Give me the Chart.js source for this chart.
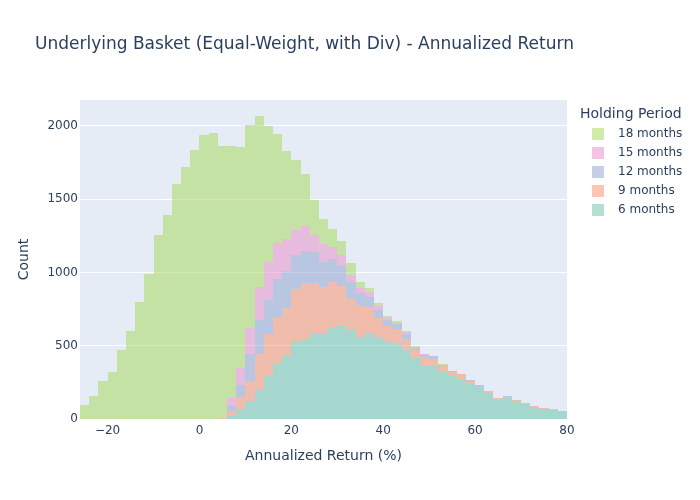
<!DOCTYPE html>
<html><head><meta charset="utf-8">
<script src="https://cdn.jsdelivr.net/npm/chart.js@4.4.1/dist/chart.umd.min.js"></script>
<style>html,body{margin:0;padding:0;background:#fff}canvas{display:block}</style>
</head><body>
<canvas id="c" width="700" height="500"></canvas>
<script>
// Histogram bins (2% wide), bin centers
const binCenters = [-25,-23,-21,-19,-17,-15,-13,-11,-9,-7,-5,-3,-1,1,3,5,7,9,11,13,15,17,19,21,23,25,27,29,31,33,35,37,39,41,43,45,47,49,51,53,55,57,59,61,63,65,67,69,71,73,75,77,79];
const seriesLabels = ['6 months','9 months','12 months','15 months','18 months'];
const months6  = [0,0,0,0,0,0,0,0,0,0,0,0,0,0,0,0,23,70,125,207,295,377,432,527,541,589,589,630,636,605,557,586,559,532,511,470,416,361,361,320,293,266,239,211,177,132,145,123,105,80,68,64,57];
const months9  = [0,0,0,0,0,0,0,0,0,0,0,0,0,0,0,5,34,82,136,238,287,321,327,362,389,341,313,306,273,217,218,178,130,102,103,75,54,62,48,41,27,41,20,7,12,13,7,9,6,11,9,4,0];
const months12 = [0,0,0,0,0,0,0,0,0,0,0,0,0,0,0,0,34,82,184,232,232,259,252,231,218,211,171,157,136,110,82,68,54,41,34,35,14,13,21,7,7,0,7,14,0,0,2,0,0,0,0,2,0];
const months15 = [0,0,0,0,0,0,0,0,0,0,0,0,0,0,0,0,54,116,175,225,259,245,219,171,170,116,122,82,75,48,34,34,27,14,7,13,7,7,2,2,0,0,0,0,0,0,0,0,0,0,0,0,0];
const months18 = [98,159,261,323,472,602,800,991,1257,1393,1604,1720,1836,1938,1952,1858,1715,1506,1387,1166,927,743,600,477,355,238,171,123,96,82,41,27,21,13,13,7,7,2,0,5,0,0,0,0,0,0,0,0,0,0,0,0,0];
const xTicks = [-20,0,20,40,60,80];
const yTicks = [0,500,1000,1500,2000];

const seriesValues = [months6, months9, months12, months15, months18];
const colors = ['rgba(102,194,165,0.5)','rgba(252,141,98,0.5)','rgba(141,160,203,0.5)','rgba(231,138,195,0.5)','rgba(166,216,84,0.5)'];
const FONT = '"DejaVu Sans", Verdana, sans-serif';
const TXT = '#2a3f5f';

const datasets = seriesValues.map((vals, i) => ({
  label: seriesLabels[i],
  data: binCenters.map((c, j) => ({x: c, y: vals[j]})),
  backgroundColor: colors[i],
  borderWidth: 0,
  inflateAmount: 0,
  barPercentage: 1,
  categoryPercentage: 1
}));

const fmt = v => v < 0 ? '\u2212' + Math.abs(v) : String(v);

const bgPlugin = {
  id: 'bg',
  beforeDraw(chart) {
    const {ctx, chartArea: a} = chart;
    ctx.save();
    ctx.fillStyle = '#fff';
    ctx.fillRect(0, 0, chart.width, chart.height);
    ctx.fillStyle = '#E5ECF6';
    ctx.fillRect(a.left, a.top, a.right - a.left, a.bottom - a.top);
    ctx.restore();
  }
};
const snapPlugin = {
  id: 'snap',
  beforeDatasetsDraw(chart) {
    chart.data.datasets.forEach((ds, i) => {
      chart.getDatasetMeta(i).data.forEach(el => {
        const l = Math.round(el.x - el.width / 2), r = Math.round(el.x + el.width / 2);
        el.x = (l + r) / 2; el.width = r - l;
        el.y = Math.round(el.y); el.base = Math.round(el.base);
      });
    });
  }
};
const textPlugin = {
  id: 'texts',
  afterDraw(chart) {
    const ctx = chart.ctx;
    ctx.save();
    ctx.fillStyle = TXT;
    ctx.textBaseline = 'middle';
    ctx.textAlign = 'left';
    ctx.font = '17px ' + FONT;
    ctx.fillText('Underlying Basket (Equal-Weight, with Div) - Annualized Return', 35, 45);
    ctx.font = '14px ' + FONT;
    ctx.fillText('Holding Period', 580, 114);
    ctx.font = '12px ' + FONT;
    const n = chart.data.datasets.length;
    for (let k = 0; k < n; k++) {
      const ds = chart.data.datasets[n - 1 - k];
      const cy = 133.5 + k * 19;
      ctx.fillStyle = ds.backgroundColor;
      ctx.fillRect(592, Math.round(cy - 6), 12, 12);
      ctx.fillStyle = TXT;
      ctx.fillText(ds.label, 618, cy);
    }
    ctx.restore();
  }
};

new Chart(document.getElementById('c'), {
  type: 'bar',
  data: {datasets},
  options: {
    responsive: false,
    animation: false,
    events: [],
    layout: {padding: {top: 100, right: 133, bottom: 0, left: 0}},
    plugins: {legend: {display: false}, tooltip: {enabled: false}, title: {display: false}},
    scales: {
      x: {
        type: 'linear', min: -26, max: 80, stacked: true, offset: false,
        grid: {display: false, offset: false},
        border: {display: false},
        afterBuildTicks: s => { s.ticks = xTicks.map(v => ({value: v})); },
        afterFit: s => { s.height = 81; },
        ticks: {color: TXT, font: {family: FONT, size: 12}, padding: -3, maxRotation: 0, autoSkip: false, callback: fmt},
        title: {display: true, text: 'Annualized Return (%)', color: TXT, font: {family: FONT, size: 14}, padding: {top: 0, bottom: 35}}
      },
      y: {
        min: 0, max: 2177, stacked: true,
        grid: {color: '#ffffff', lineWidth: 1, drawTicks: false},
        border: {display: false},
        afterBuildTicks: s => { s.ticks = yTicks.map(v => ({value: v})); },
        afterFit: s => { s.width = 80; },
        ticks: {color: TXT, font: {family: FONT, size: 12}, padding: 2, callback: fmt},
        title: {display: true, text: 'Count', color: TXT, font: {family: FONT, size: 14}, padding: {top: 16, bottom: 0}}
      }
    }
  },
  plugins: [bgPlugin, snapPlugin, textPlugin]
});
</script>
</body></html>
